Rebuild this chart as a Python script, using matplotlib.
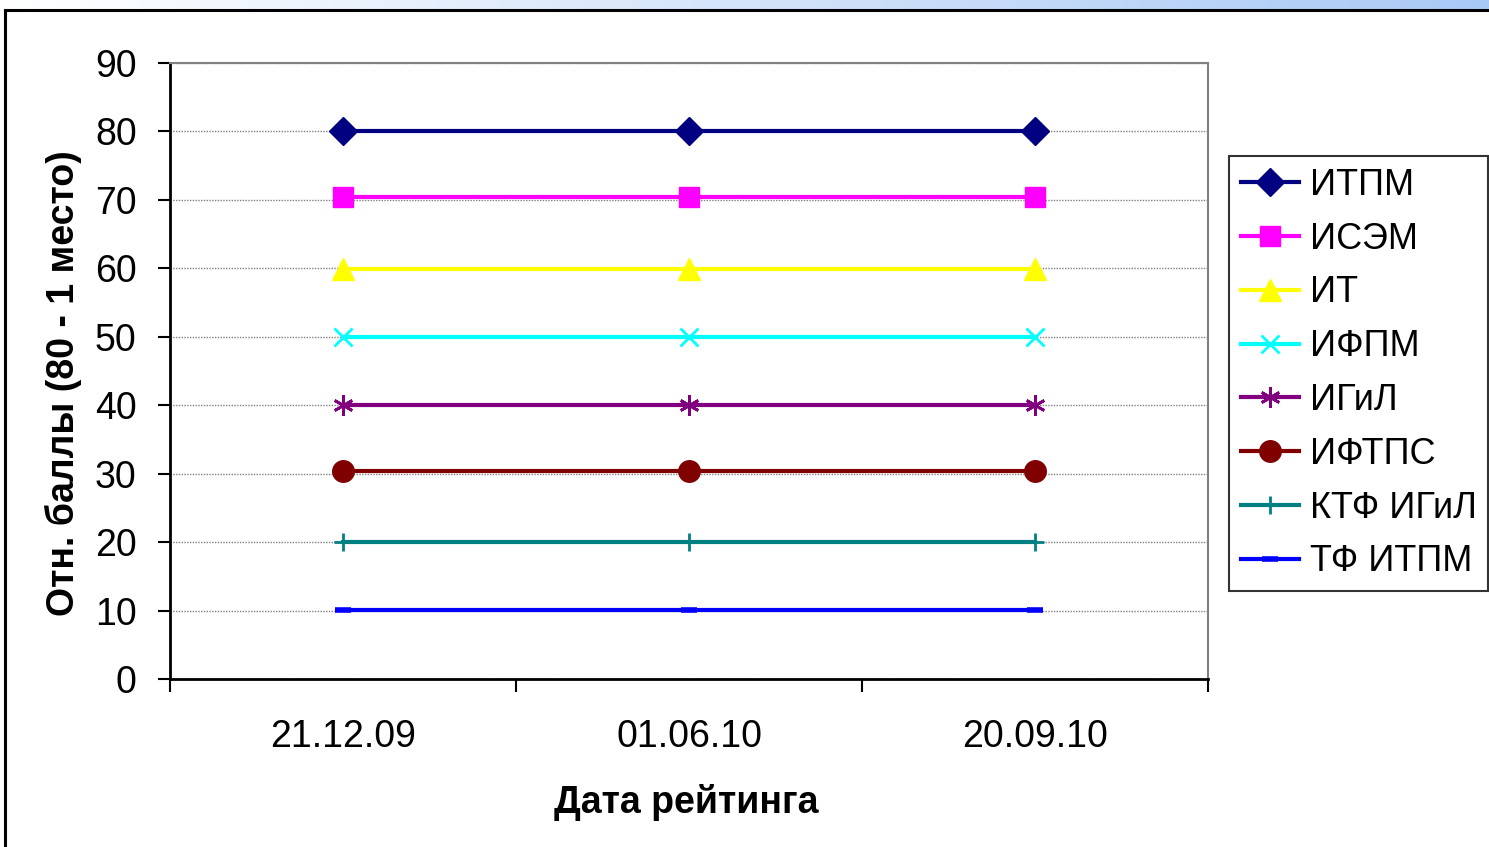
import matplotlib
matplotlib.use("Agg")
import matplotlib.pyplot as plt
import numpy as np
from matplotlib.patches import Rectangle
from matplotlib.colors import LinearSegmentedColormap

plt.rcParams['font.family'] = ['Liberation Sans', 'DejaVu Sans']

dates = ["21.12.09", "01.06.10", "20.09.10"]
series_names = ["ИТПМ", "ИСЭМ", "ИТ", "ИФПМ", "ИГиЛ", "ИФТПС", "КТФ ИГиЛ", "ТФ ИТПМ"]
itpm = [80, 80, 80]
isem = [70.4, 70.4, 70.4]
it = [59.9, 59.9, 59.9]
ifpm = [50, 50, 50]
igil = [40, 40, 40]
iftps = [30.4, 30.4, 30.4]
ktf_igil = [20, 20, 20]
tf_itpm = [10.1, 10.1, 10.1]
values = [itpm, isem, it, ifpm, igil, iftps, ktf_igil, tf_itpm]

colors = ["#000080", "#FF00FF", "#FFFF00", "#00FFFF", "#800080", "#800000", "#008080", "#0000FF"]
markers = ["D", "s", "^", "x", (6, 2, 0), "o", "+", "_"]
msizes = [14, 14.5, 16.5, 13.5, 14.5, 15.5, 13, 11]

W, H = 1489, 847
fig = plt.figure(figsize=(W / 100, H / 100), dpi=100)

# background frame: gradient strip and white panel
bg = fig.add_axes([0, 0, 1, 1])
bg.set_xlim(0, W)
bg.set_ylim(H, 0)
bg.axis("off")
grad = np.linspace(0, 1, 256)[None, :]
cmap = LinearSegmentedColormap.from_list("g", ["#ffffff", "#a9c9f5"])
bg.imshow(grad, extent=[0, W, H, 0], aspect="auto", cmap=cmap, zorder=0)
bg.add_patch(Rectangle((5, 10), W, H, facecolor="white", edgecolor="none", zorder=1))
bg.plot([5, W], [10, 10], color="black", lw=2.2, zorder=2)
bg.plot([5, 5], [10, H], color="black", lw=2.2, zorder=2)

ax = fig.add_axes([170 / W, 1 - 679 / H, (1208 - 170) / W, (679 - 63) / H])
ax.set_facecolor("white")
x = np.arange(len(dates))
for name, vals, c, m, ms in zip(series_names, values, colors, markers, msizes):
    mew = 2 if m in ("x", "+", (6, 2, 0), "_") else 1
    if m == "_":
        mew = 4
    ax.plot(x, vals, color=c, lw=3, marker=m, markersize=ms, markerfacecolor=c,
            markeredgecolor=c, markeredgewidth=mew, label=name, clip_on=False, zorder=3)

ax.set_xlim(-0.5, 2.5)
ax.set_ylim(0, 90)
ax.set_yticks(np.arange(0, 91, 10))
ax.set_xticks([-0.5, 0.5, 1.5, 2.5])
ax.set_xticklabels([])
ax.set_xticks(x, minor=True)
ax.set_xticklabels(dates, minor=True)
ax.tick_params(axis="x", which="major", direction="out", length=9, width=1.5)
ax.tick_params(axis="x", which="minor", length=0, pad=29, labelsize=27)
ax.tick_params(axis="y", direction="out", length=9, width=1.5, pad=15, labelsize=27)
ax.yaxis.grid(True, color="#808080", linestyle=(0, (1, 1)), lw=1)
ax.set_axisbelow(True)
for s in ["top", "right"]:
    ax.spines[s].set_color("#808080")
    ax.spines[s].set_linewidth(1.5)
for s in ["left", "bottom"]:
    ax.spines[s].set_color("black")
    ax.spines[s].set_linewidth(2)

ax.set_xlabel("Дата рейтинга", fontsize=27, fontweight="bold")
ax.xaxis.set_label_coords((686 - 170) / 1038, -(784 - 679) / 616)
ax.set_ylabel("Отн. баллы (80 - 1 место)", fontsize=27, fontweight="bold")
ax.yaxis.set_label_coords((82 - 170) / 1038, (679 - 383) / 616)

leg = ax.legend(loc="upper left", bbox_to_anchor=((1229 - 170) / (1208 - 170), 1 - (156 - 63) / (679 - 63)),
                fontsize=26, frameon=True, fancybox=False, edgecolor="black",
                borderpad=0.33, labelspacing=0.52, handlelength=1.6, handletextpad=0.3,
                borderaxespad=0)
leg.get_frame().set_linewidth(1.5)

fig.savefig("out.png", dpi=100)
